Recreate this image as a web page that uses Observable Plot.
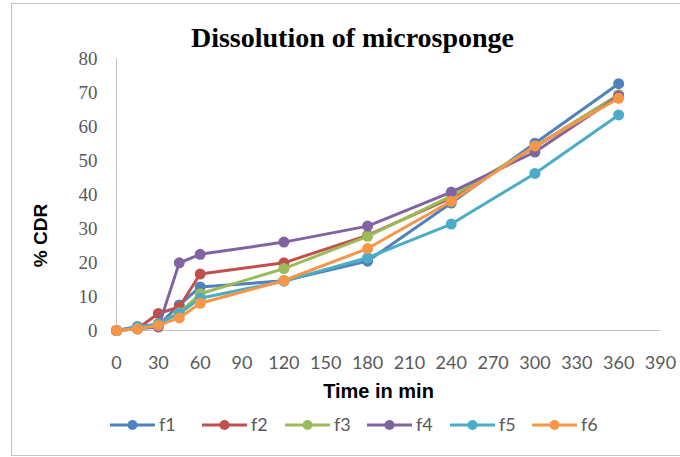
<!DOCTYPE html>
<html><head><meta charset="utf-8">
<script src="https://cdn.jsdelivr.net/npm/d3@7"></script>
<script src="https://cdn.jsdelivr.net/npm/@observablehq/plot@0.6"></script>
<style>
html,body{margin:0;padding:0;background:#fff;}
#wrap{position:relative;width:680px;height:457px;overflow:hidden;background:#fff;}
#border{position:absolute;left:11px;top:3px;width:720px;height:453px;border:1px solid #c4c4c4;box-sizing:border-box;}
#chart{position:absolute;left:0;top:0;}
#legend{position:absolute;left:0;top:410px;}
#chart g[aria-label="y-axis tick label"], #chart g[aria-label="y-axis tick label"] text {font-family:"Liberation Serif", serif !important; font-size:19px !important;}
#chart g[aria-label="x-axis tick label"], #chart g[aria-label="x-axis tick label"] text {font-family:"Lato", sans-serif !important; font-size:18px !important;}
</style></head><body>
<div id="wrap"><div id="border"></div><div id="chart"></div><svg id="legend" width="680" height="30"></svg></div>
<script>
const times = [0, 15, 30, 45, 60, 120, 180, 240, 300, 360];
const f1 = [0, 1.2, 1.5, 7.5, 12.8, 14.6, 20.4, 37.5, 55.1, 72.6];
const f2 = [0, 0.5, 5.0, 6.9, 16.6, 19.9, 28.0, 39.0, 54.0, 69.3];
const f3 = [0, 0.5, 2.0, 5.2, 10.8, 18.2, 27.7, 39.5, 54.0, 69.3];
const f4 = [0, 0.5, 1.0, 19.9, 22.4, 26.0, 30.7, 40.7, 52.5, 69.0];
const f5 = [0, 1.0, 2.0, 5.0, 9.5, 14.5, 21.4, 31.3, 46.2, 63.4];
const f6 = [0, 0.5, 1.5, 3.7, 8.0, 14.7, 24.1, 38.0, 54.3, 68.3];
const seriesNames = ["f1", "f2", "f3", "f4", "f5", "f6"];
const seriesColors = ["#4F81BD", "#C0504D", "#9BBB59", "#8064A2", "#4BACC6", "#F79646"];
const xTicks = [0, 30, 60, 90, 120, 150, 180, 210, 240, 270, 300, 330, 360, 390];
const yTicks = [0, 10, 20, 30, 40, 50, 60, 70, 80];
const titleText = "Dissolution of microsponge";
const xLabel = "Time in min";
const yLabel = "% CDR";

const seriesValues = [f1, f2, f3, f4, f5, f6];
const rows = seriesNames.flatMap((s, k) => times.map((t, i) => ({t, v: seriesValues[k][i], s})));

const marks = [
  Plot.ruleY([0], {stroke: "#c0c0c0", strokeWidth: 1}),
  Plot.ruleX([0], {stroke: "#c0c0c0", strokeWidth: 1}),
  Plot.axisX({ticks: xTicks, tickSize: 0, tickPadding: 26, label: null, fontSize: 18, fontFamily: "Lato", color: "#595959"}),
  Plot.axisY({ticks: yTicks, tickSize: 0, tickPadding: 19, label: null, fontSize: 19, fontFamily: "Liberation Serif", color: "#595959"}),
];
seriesNames.forEach((s, k) => {
  const d = rows.filter(r => r.s === s);
  marks.push(Plot.line(d, {x: "t", y: "v", stroke: seriesColors[k], strokeWidth: 3}));
  marks.push(Plot.dot(d, {x: "t", y: "v", r: 5.5, fill: seriesColors[k], stroke: "none"}));
});
marks.push(Plot.text([titleText], {frameAnchor: "top", textAnchor: "middle", lineAnchor: "bottom", dx: -36, dy: -12,
  fontSize: 28, fontWeight: "bold", fontFamily: "Liberation Serif", fill: "#000"}));
marks.push(Plot.text([xLabel], {frameAnchor: "bottom", textAnchor: "middle", lineAnchor: "bottom", dx: -10, dy: 67,
  fontSize: 20, fontWeight: "bold", fontFamily: "Liberation Sans", fill: "#000"}));
marks.push(Plot.text([yLabel], {frameAnchor: "left", textAnchor: "middle", lineAnchor: "middle", rotate: -90, dx: -76, dy: 41,
  fontSize: 19, fontWeight: "bold", fontFamily: "Liberation Sans", fill: "#000"}));

const chart = Plot.plot({
  width: 680, height: 457,
  marginLeft: 116, marginRight: 20, marginTop: 58, marginBottom: 127,
  style: {background: "transparent", overflow: "visible"},
  x: {domain: [0, 390]},
  y: {domain: [0, 80]},
  marks
});
document.getElementById("chart").appendChild(chart);

// legend
const legendX = [110, 202, 285, 367, 450, 532];
const lg = d3.select("#legend");
seriesNames.forEach((s, k) => {
  const g = lg.append("g").attr("transform", `translate(${legendX[k]},15)`);
  g.append("line").attr("x1", 0).attr("x2", 45).attr("y1", 0).attr("y2", 0).attr("stroke", seriesColors[k]).attr("stroke-width", 3);
  g.append("circle").attr("cx", 22.5).attr("cy", 0).attr("r", 5).attr("fill", seriesColors[k]);
  g.append("text").attr("x", 49).attr("y", 0).attr("dy", "0.35em").attr("font-family", "Lato").attr("font-size", 18).attr("fill", "#595959").text(s);
});
</script>
</body></html>
